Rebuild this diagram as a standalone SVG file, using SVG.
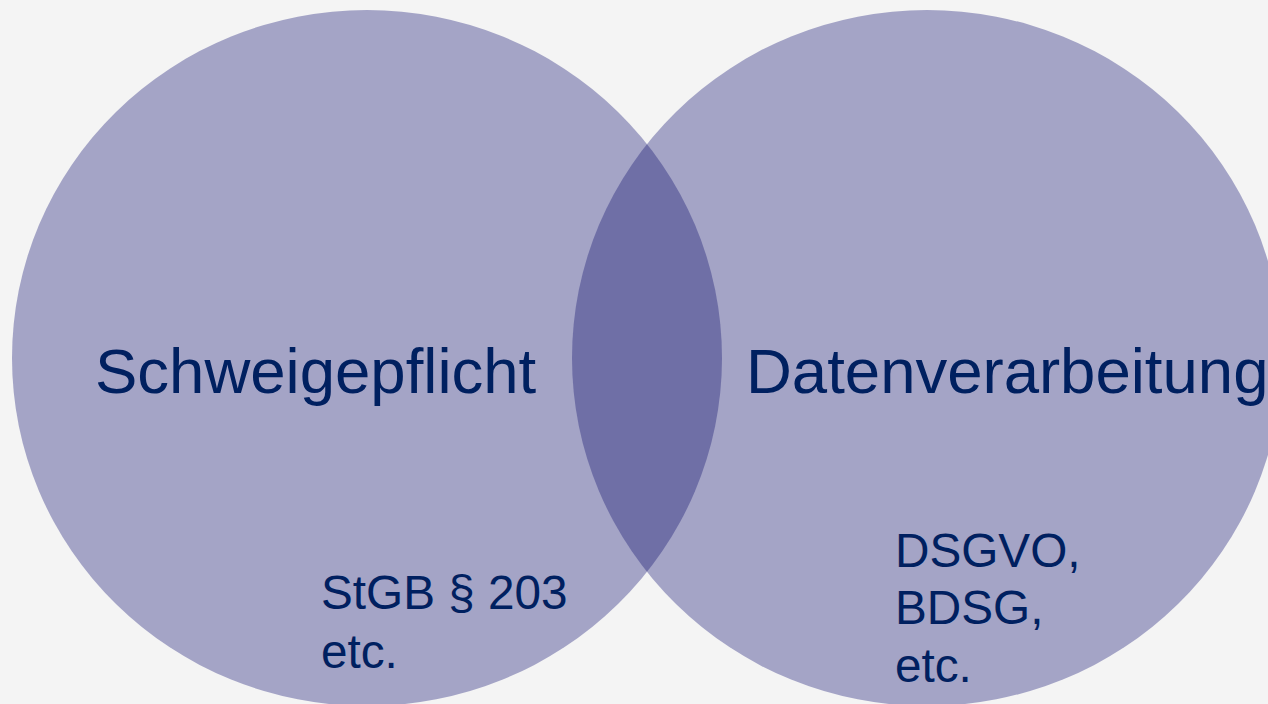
<svg xmlns="http://www.w3.org/2000/svg" width="1268" height="704" viewBox="0 0 1268 704">
<style>
.c{fill:#a4a4c6}
.lens{fill:#6f6fa6}
.t{font-family:"Liberation Sans",Arial,sans-serif;fill:#002060}
.big{font-size:63.5px}
.small{font-size:47.7px}
</style>
<defs>
<clipPath id="clipL"><ellipse cx="367" cy="358" rx="355" ry="348"/></clipPath>
</defs>
<rect width="1268" height="704" fill="#f4f4f4"/>
<g id="schweigepflicht">
<ellipse class="c" cx="367" cy="358" rx="355" ry="348"/>
</g>
<g id="datenverarbeitung">
<ellipse class="c" cx="927" cy="358" rx="355" ry="348"/>
</g>
<g id="overlap">
<ellipse class="lens" cx="927" cy="358" rx="355" ry="348" clip-path="url(#clipL)"/>
</g>
<g id="labels">
<text class="t big" x="95" y="393">Schweigepflicht</text>
<text class="t big" x="746" y="393">Datenverarbeitung</text>
<text class="t small" x="321" y="609">StGB § 203</text>
<text class="t small" x="321" y="668">etc.</text>
<text class="t small" x="895" y="567">DSGVO,</text>
<text class="t small" x="895" y="624">BDSG,</text>
<text class="t small" x="895" y="682">etc.</text>
</g>
<g id="connectors"/>
</svg>
